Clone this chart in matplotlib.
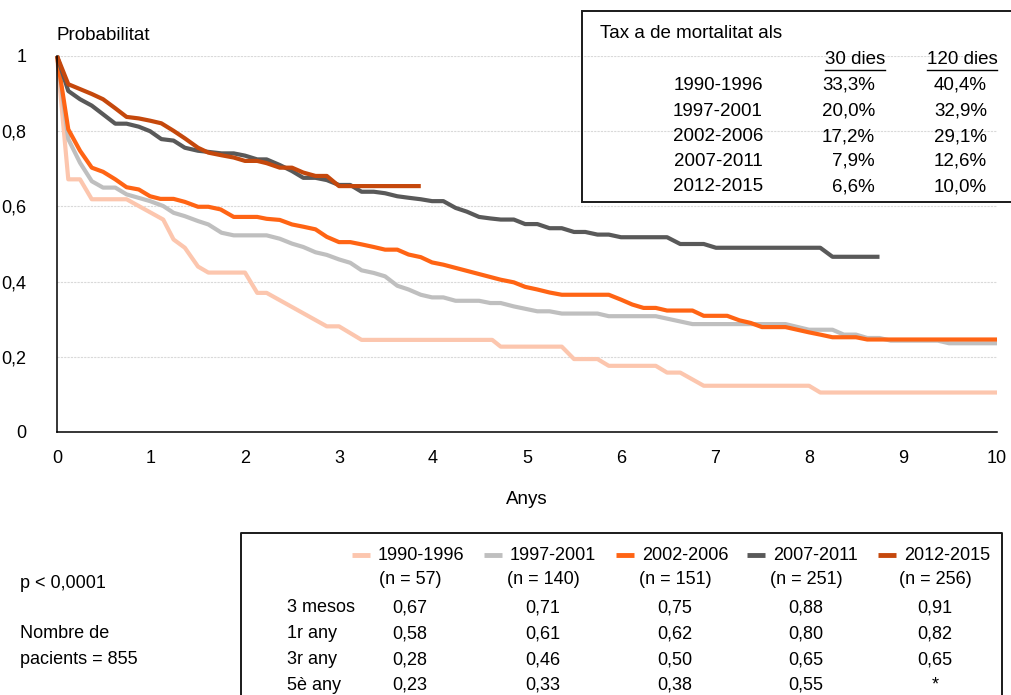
import matplotlib
matplotlib.use("Agg")
import matplotlib.pyplot as plt
from matplotlib import font_manager as fm
from matplotlib.lines import Line2D
from matplotlib.patches import Rectangle

# ---------------- data ----------------
series_names = ["1990-1996", "1997-2001", "2002-2006", "2007-2011", "2012-2015"]
series_n = ["(n = 57)", "(n = 140)", "(n = 151)", "(n = 251)", "(n = 256)"]
colors = ["#FCC6AE", "#BFBFBF", "#FF6414", "#595959", "#C5480C"]

x_1990 = [0, 0.12, 0.245, 0.37, 0.74, 1.13, 1.24, 1.36, 1.50, 1.61, 2.0, 2.13, 2.23, 2.87, 3.0, 3.24,
          4.63, 4.72, 5.37, 5.50, 5.75, 5.87, 6.37, 6.49, 6.63, 6.88, 8.0, 8.12, 10.0]
y_1990 = [1, 0.672, 0.672, 0.619, 0.619, 0.565, 0.512, 0.49, 0.44, 0.424, 0.424, 0.37, 0.37, 0.281, 0.281,
          0.245, 0.245, 0.227, 0.227, 0.194, 0.194, 0.176, 0.176, 0.158, 0.158, 0.123, 0.123, 0.105, 0.105]

x_1997 = [0, 0.12, 0.245, 0.37, 0.49, 0.62, 0.74, 0.99, 1.13, 1.24, 1.36, 1.50, 1.61, 1.75, 1.88, 2.23,
          2.37, 2.50, 2.62, 2.75, 2.87, 3.0, 3.12, 3.24, 3.37, 3.49, 3.62, 3.74, 3.87, 3.99, 4.11, 4.24,
          4.49, 4.61, 4.72, 4.86, 5.11, 5.24, 5.37, 5.75, 5.87, 6.37, 6.76, 7.75, 8.0, 8.25, 8.37, 8.50,
          8.62, 8.75, 8.87, 9.37, 9.49, 10.0]
y_1997 = [1, 0.779, 0.716, 0.667, 0.65, 0.65, 0.632, 0.614, 0.601, 0.583, 0.574, 0.561, 0.552, 0.530,
          0.523, 0.523, 0.514, 0.501, 0.492, 0.478, 0.471, 0.459, 0.450, 0.43, 0.423, 0.414, 0.389, 0.379,
          0.365, 0.358, 0.358, 0.349, 0.349, 0.343, 0.343, 0.334, 0.321, 0.321, 0.315, 0.315, 0.308, 0.308,
          0.287, 0.287, 0.272, 0.272, 0.259, 0.259, 0.250, 0.250, 0.243, 0.243, 0.236, 0.236]

x_2002 = [0, 0.12, 0.245, 0.37, 0.49, 0.62, 0.74, 0.87, 0.99, 1.10, 1.24, 1.36, 1.50, 1.61, 1.74, 1.88,
          2.13, 2.23, 2.37, 2.50, 2.62, 2.75, 2.87, 3.0, 3.12, 3.24, 3.37, 3.49, 3.62, 3.74, 3.87, 3.99,
          4.11, 4.72, 4.86, 4.98, 5.11, 5.24, 5.37, 5.87, 6.0, 6.12, 6.24, 6.37, 6.49, 6.76, 6.88, 7.13,
          7.26, 7.38, 7.50, 7.75, 8.0, 8.12, 8.25, 8.50, 8.62, 10.0]
y_2002 = [1, 0.805, 0.748, 0.703, 0.692, 0.672, 0.651, 0.645, 0.627, 0.620, 0.620, 0.612, 0.599, 0.599,
          0.592, 0.572, 0.572, 0.567, 0.564, 0.552, 0.546, 0.539, 0.519, 0.505, 0.505, 0.499, 0.492, 0.485,
          0.485, 0.472, 0.465, 0.451, 0.445, 0.405, 0.398, 0.386, 0.379, 0.371, 0.365, 0.365, 0.352, 0.339,
          0.330, 0.330, 0.323, 0.323, 0.309, 0.309, 0.297, 0.290, 0.279, 0.279, 0.265, 0.259, 0.252, 0.252,
          0.246, 0.246]

x_2007 = [0, 0.12, 0.245, 0.37, 0.49, 0.62, 0.74, 0.87, 0.99, 1.11, 1.24, 1.36, 1.50, 1.61, 1.75, 1.88,
          2.0, 2.13, 2.23, 2.37, 2.50, 2.62, 2.75, 2.87, 3.0, 3.12, 3.24, 3.37, 3.49, 3.62, 3.74, 3.87,
          3.99, 4.11, 4.24, 4.36, 4.49, 4.61, 4.72, 4.86, 4.98, 5.11, 5.24, 5.37, 5.50, 5.62, 5.75, 5.87,
          6.0, 6.49, 6.63, 6.88, 7.01, 8.12, 8.25, 8.75]
y_2007 = [1, 0.907, 0.885, 0.868, 0.845, 0.82, 0.82, 0.812, 0.80, 0.779, 0.775, 0.756, 0.748, 0.745,
          0.741, 0.741, 0.735, 0.725, 0.725, 0.71, 0.694, 0.676, 0.676, 0.67, 0.657, 0.657, 0.639, 0.639,
          0.635, 0.627, 0.623, 0.619, 0.614, 0.614, 0.596, 0.586, 0.572, 0.568, 0.565, 0.565, 0.553, 0.553,
          0.542, 0.542, 0.532, 0.532, 0.525, 0.525, 0.518, 0.518, 0.50, 0.50, 0.49, 0.49, 0.466, 0.466]

x_2012 = [0, 0.12, 0.245, 0.37, 0.49, 0.62, 0.74, 0.87, 0.99, 1.11, 1.24, 1.36, 1.50, 1.61, 1.75, 1.88,
          2.0, 2.13, 2.23, 2.37, 2.50, 2.62, 2.75, 2.87, 3.0, 3.87]
y_2012 = [1, 0.925, 0.912, 0.899, 0.885, 0.861, 0.838, 0.834, 0.828, 0.821, 0.801, 0.781, 0.756, 0.743,
          0.736, 0.73, 0.721, 0.721, 0.715, 0.703, 0.703, 0.69, 0.681, 0.681, 0.654, 0.654]

x_ticks = [0, 1, 2, 3, 4, 5, 6, 7, 8, 9, 10]
y_ticks = [0, 0.2, 0.4, 0.6, 0.8, 1.0]
y_tick_labels = ["0", "0,2", "0,4", "0,6", "0,8", "1"]

mort_title = "Tax a de mortalitat als"
mort_headers = ["30 dies", "120 dies"]
mort_30 = ["33,3%", "20,0%", "17,2%", "7,9%", "6,6%"]
mort_120 = ["40,4%", "32,9%", "29,1%", "12,6%", "10,0%"]

surv_rows = ["3 mesos", "1r any", "3r any", "5è any"]
surv_values = [
    ["0,67", "0,71", "0,75", "0,88", "0,91"],
    ["0,58", "0,61", "0,62", "0,80", "0,82"],
    ["0,28", "0,46", "0,50", "0,65", "0,65"],
    ["0,23", "0,33", "0,38", "0,55", "*"],
]
p_text = "p < 0,0001"
n_text = ["Nombre de", "pacients = 855"]

# ---------------- fonts ----------------
names = {f.name for f in fm.fontManager.ttflist}
if "Liberation Sans Narrow" in names:
    FAM = ["Liberation Sans Narrow", "DejaVu Sans"]
else:
    FAM = ["Liberation Sans", "DejaVu Sans"]
plt.rcParams["font.family"] = FAM

W, H = 1011, 695
fig = plt.figure(figsize=(W / 100, H / 100), dpi=100)


def fx(px):
    return px / W


def fy(py):
    return 1 - py / H


# axes
L, R, T, B = 57, 997, 56, 432
ax = fig.add_axes([fx(L), fy(B), fx(R) - fx(L), fy(T) - fy(B)])
ax.set_xlim(0, 10)
ax.set_ylim(0, 1)
for s in ["top", "right"]:
    ax.spines[s].set_visible(False)
for s in ["left", "bottom"]:
    ax.spines[s].set_color("black")
    ax.spines[s].set_linewidth(1.1)
ax.set_xticks(x_ticks)
ax.set_xticklabels([str(v) for v in x_ticks])
ax.set_yticks(y_ticks)
ax.set_yticklabels(y_tick_labels)
ax.tick_params(length=0, labelsize=13)
ax.tick_params(axis="y", pad=22)
ax.tick_params(axis="x", pad=13)
ax.grid(axis="y", color="#D9D9D9", linewidth=0.8, linestyle=(0, (2, 1)))
ax.set_axisbelow(True)

xs = [x_1990, x_1997, x_2002, x_2007, x_2012]
ys = [y_1990, y_1997, y_2002, y_2007, y_2012]
for xv, yv, c in zip(xs, ys, colors):
    ax.plot(xv, yv, color=c, lw=3.0, solid_joinstyle="round", solid_capstyle="butt", clip_on=False)

fig.text(fx(57), fy(36), "Probabilitat", fontsize=13.5, ha="left", va="center")
fig.text(fx(527), fy(499), "Anys", fontsize=13.5, ha="center", va="center")

# mortality box
box = Rectangle((fx(582), fy(202)), fx(1012) - fx(582), fy(11) - fy(202), transform=fig.transFigure,
                fill=False, edgecolor="#1a1a1a", linewidth=1.4, clip_on=False)
fig.add_artist(box)
FS_BOX = 13.5
fig.text(fx(600), fy(34), mort_title, fontsize=FS_BOX, ha="left", va="center")
fig.text(fx(855), fy(59), mort_headers[0], fontsize=FS_BOX, ha="center", va="center")
fig.text(fx(962), fy(59), mort_headers[1], fontsize=FS_BOX, ha="center", va="center")
fig.add_artist(Line2D([fx(825), fx(885)], [fy(70), fy(70)], color="black", lw=1.0, transform=fig.transFigure))
fig.add_artist(Line2D([fx(927), fx(997)], [fy(70), fy(70)], color="black", lw=1.0, transform=fig.transFigure))
row_y = [85, 111, 136.5, 161.5, 187]
for i, ry in enumerate(row_y):
    fig.text(fx(718), fy(ry), series_names[i], fontsize=FS_BOX, ha="center", va="center")
    fig.text(fx(875), fy(ry), mort_30[i], fontsize=FS_BOX, ha="right", va="center")
    fig.text(fx(987), fy(ry), mort_120[i], fontsize=FS_BOX, ha="right", va="center")

# bottom left notes
FS_B = 13
fig.text(fx(20), fy(583), p_text, fontsize=FS_B, ha="left", va="center")
fig.text(fx(20), fy(634), n_text[0], fontsize=FS_B, ha="left", va="center")
fig.text(fx(20), fy(659), n_text[1], fontsize=FS_B, ha="left", va="center")

# bottom table box (open at the bottom of the image)
fig.add_artist(Line2D([fx(241), fx(241), fx(1002), fx(1002)], [fy(700), fy(533), fy(533), fy(700)],
                      color="#1a1a1a", lw=1.4, transform=fig.transFigure))
label_x = [378, 510, 642, 773, 904]
col_c = [410, 543, 675, 806, 935]
for i in range(5):
    fig.add_artist(Line2D([fx(label_x[i] - 26), fx(label_x[i] - 8)], [fy(555), fy(555)], color=colors[i],
                          lw=3.5, solid_capstyle="butt", transform=fig.transFigure))
    fig.text(fx(label_x[i]), fy(555), series_names[i], fontsize=FS_B, ha="left", va="center")
    fig.text(fx(col_c[i]), fy(579), series_n[i], fontsize=FS_B, ha="center", va="center")
table_row_y = [608, 634, 660, 685]
for r, ry in enumerate(table_row_y):
    fig.text(fx(287), fy(ry), surv_rows[r], fontsize=FS_B, ha="left", va="center")
    for i in range(5):
        fig.text(fx(col_c[i]), fy(ry), surv_values[r][i], fontsize=FS_B, ha="center", va="center")

fig.savefig("out.png", dpi=100)
